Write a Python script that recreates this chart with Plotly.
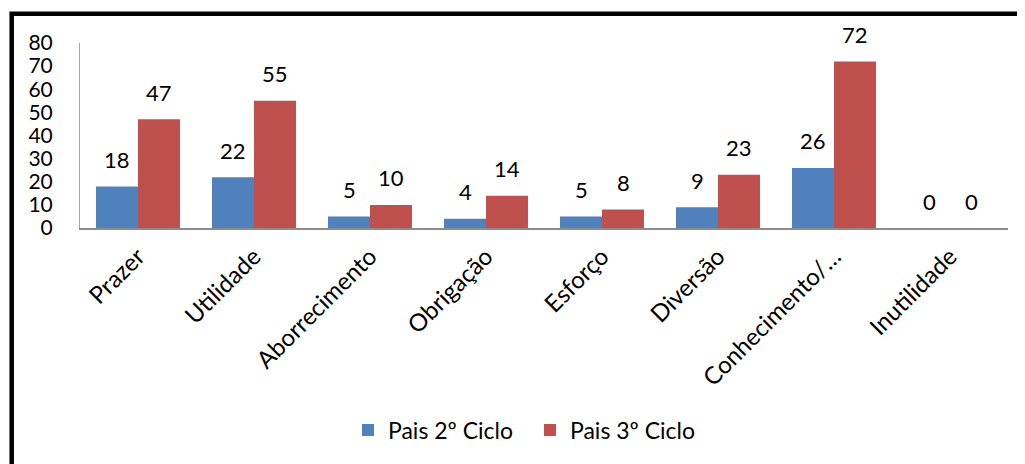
import plotly.graph_objects as go

categories = ["Prazer", "Utilidade", "Aborrecimento", "Obrigação", "Esforço",
              "Diversão", "Conhecimento/…", "Inutilidade"]
pais_2_ciclo = [18, 22, 5, 4, 5, 9, 26, 0]
pais_3_ciclo = [47, 55, 10, 14, 8, 23, 72, 0]
series_names = ["Pais 2º Ciclo", "Pais 3º Ciclo"]
series_colors = ["#4F81BD", "#C0504D"]
y_ticks = [0, 10, 20, 30, 40, 50, 60, 70, 80]

FONT = "Lato, Carlito, Calibri, sans-serif"

fig = go.Figure()
for name, vals, col in zip(series_names, [pais_2_ciclo, pais_3_ciclo], series_colors):
    fig.add_trace(go.Bar(x=categories, y=vals, name=name, marker_color=col,
                         marker_line_width=0))

annotations = []
for i, vals in enumerate([pais_2_ciclo, pais_3_ciclo]):
    off = -0.181 if i == 0 else 0.181
    for j, v in enumerate(vals):
        annotations.append(dict(
            x=j + off, y=v, xref="x", yref="y", text=str(v),
            showarrow=False, yanchor="middle", yshift=27,
            font=dict(family=FONT, size=22, color="black")))

# the page body has an 8px margin, so figure coords = screen coords - 8
OFF = 8
W, H = 1025 - OFF, 464 - OFF
L, R, T, B = 80 - OFF, 17, 43 - OFF, 236
pw, ph = W - L - R, H - T - B

def px(x):
    return (x - OFF - L) / pw

def py(y):
    return (H - B - (y - OFF)) / ph

fig.update_layout(
    width=W, height=H,
    margin=dict(l=L, r=R, t=T, b=B, pad=0, autoexpand=False),
    paper_bgcolor="white", plot_bgcolor="white",
    barmode="group", bargap=0.276, bargroupgap=0,
    font=dict(family=FONT, size=20, color="black"),
    xaxis=dict(type="category", tickangle=-45, showline=True, linecolor="#8C8C8C",
               linewidth=2, ticks="", showgrid=False, automargin=False,
               ticklabelstandoff=3, ticklabelshift=0,
               tickfont=dict(family=FONT, size=24, color="black")),
    yaxis=dict(range=[0, 80], tickvals=y_ticks, showline=True, linecolor="#A6A6A6",
               linewidth=1, ticks="", showgrid=False, zeroline=False, automargin=False,
               ticklabelstandoff=22,
               tickfont=dict(family=FONT, size=21, color="black")),
    legend=dict(orientation="h", x=px(530), xanchor="center", y=py(430), yanchor="middle",
                font=dict(family=FONT, size=23, color="black"),
                itemwidth=30, traceorder="normal", entrywidth=137),
    annotations=annotations,
    shapes=[dict(type="rect", xref="paper", yref="paper",
                 x0=px(11.7), x1=px(1060), y0=py(500), y1=py(13.8),
                 line=dict(color="black", width=4.5), fillcolor="rgba(0,0,0,0)",
                 layer="above")],
)

fig.write_html("out.html")
